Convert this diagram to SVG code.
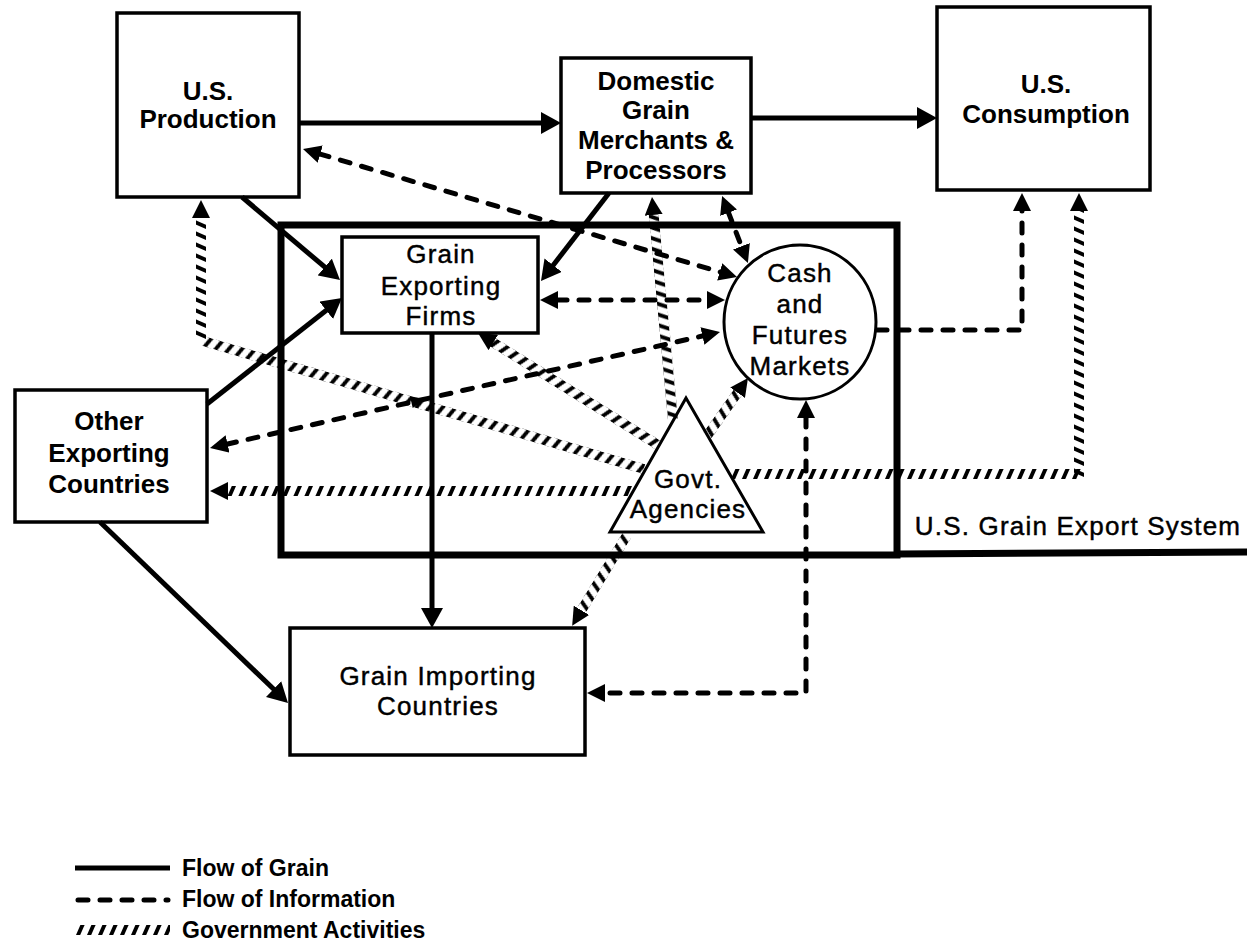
<svg xmlns="http://www.w3.org/2000/svg" width="1247" height="948" viewBox="0 0 1247 948">
<style>
.box{fill:#fff;stroke:#000;stroke-width:3.5}
.tb{font-family:"Liberation Sans",Arial,sans-serif;font-size:26px;font-weight:bold;text-anchor:middle;fill:#000}
.tr{font-family:"Liberation Sans",Arial,sans-serif;font-size:26px;letter-spacing:1.2px;text-anchor:middle;fill:#000;stroke:#000;stroke-width:0.45}
.lg{font-family:"Liberation Sans",Arial,sans-serif;font-size:23px;font-weight:bold;fill:#000}
.grain{stroke:#000;stroke-width:5;fill:none}
.info{stroke:#000;stroke-width:5;fill:none;stroke-dasharray:10 12;stroke-linecap:round;stroke-linejoin:round}
.gov{stroke:url(#hatch);stroke-width:10;fill:none}
</style>
<defs>
<pattern id="hatch" patternUnits="userSpaceOnUse" x="0" y="-5" width="11" height="10">
<polygon points="1,10 5.2,10 9.6,0 5.4,0" fill="#000"/>
</pattern>
<marker id="ah" viewBox="0 0 20 22" refX="1" refY="11" markerWidth="20" markerHeight="22" markerUnits="userSpaceOnUse" orient="auto-start-reverse"><path d="M0,0 L20,11 L0,22 Z" fill="#000"/></marker>
<marker id="ahd" viewBox="0 0 18 18" refX="1" refY="9" markerWidth="18" markerHeight="18" markerUnits="userSpaceOnUse" orient="auto-start-reverse"><path d="M0,0 L18,9 L0,18 Z" fill="#000"/></marker>
</defs>
<rect width="1247" height="948" fill="#fff"/>

<g id="export-system">
<rect x="281" y="225" width="616" height="330" fill="none" stroke="#000" stroke-width="7"/>
<line x1="897" y1="554" x2="1247" y2="552" stroke="#000" stroke-width="7"/>
<text class="tr" x="1078" y="535">U.S. Grain Export System</text>
</g>

<g id="node-us-production">
<rect class="box" x="117" y="13" width="182" height="184"/>
<text class="tb" x="208" y="100">U.S.</text>
<text class="tb" x="208" y="128">Production</text>
</g>

<g id="node-domestic-merchants">
<rect class="box" x="561" y="58" width="190" height="135"/>
<text class="tb" x="656" y="90">Domestic</text>
<text class="tb" x="656" y="119">Grain</text>
<text class="tb" x="656" y="149">Merchants &amp;</text>
<text class="tb" x="656" y="179">Processors</text>
</g>

<g id="node-us-consumption">
<rect class="box" x="937" y="7" width="213" height="183"/>
<text class="tb" x="1046" y="93">U.S.</text>
<text class="tb" x="1046" y="123">Consumption</text>
</g>

<g id="node-grain-exporting-firms">
<rect class="box" x="342" y="237" width="196" height="96" stroke-width="3"/>
<text class="tr" x="441" y="263">Grain</text>
<text class="tr" x="441" y="295">Exporting</text>
<text class="tr" x="441" y="325">Firms</text>
</g>

<g id="node-cash-futures">
<ellipse cx="800" cy="322" rx="76" ry="77" fill="#fff" stroke="#000" stroke-width="3"/>
<text class="tr" x="800" y="282">Cash</text>
<text class="tr" x="800" y="313">and</text>
<text class="tr" x="800" y="344">Futures</text>
<text class="tr" x="800" y="375">Markets</text>
</g>

<g id="node-govt-agencies">
<polygon points="686,398 610,532 763,532" fill="#fff" stroke="#000" stroke-width="3"/>
<text class="tr" x="688" y="488">Govt.</text>
<text class="tr" x="688" y="518">Agencies</text>
</g>

<g id="node-other-exporting">
<rect class="box" x="15" y="390" width="192" height="132"/>
<text class="tb" x="109" y="430">Other</text>
<text class="tb" x="109" y="462">Exporting</text>
<text class="tb" x="109" y="493">Countries</text>
</g>

<g id="node-grain-importing">
<rect class="box" x="290" y="628" width="295" height="127"/>
<text class="tr" x="438" y="685">Grain Importing</text>
<text class="tr" x="438" y="715">Countries</text>
</g>

<g id="connectors">
<!-- grain flows -->
<path class="grain" d="M299,123 H542" marker-end="url(#ah)"/>
<path class="grain" d="M751,118 H918" marker-end="url(#ah)"/>
<path class="grain" d="M242,197 L325.5,267.7" marker-end="url(#ah)"/>
<path class="grain" d="M609,193 L552.6,266" marker-end="url(#ah)"/>
<path class="grain" d="M207,404 L327,309.7" marker-end="url(#ah)"/>
<path class="grain" d="M100,522 L274.3,689.8" marker-end="url(#ah)"/>
<path class="grain" d="M432,333 V609" stroke-width="4" marker-end="url(#ah)"/>
<!-- information flows -->
<path class="info" d="M319.3,153.8 L720.7,272.2" marker-start="url(#ahd)" marker-end="url(#ahd)"/>
<path class="info" d="M728.2,211.8 L741.8,247.2" marker-start="url(#ahd)" marker-end="url(#ahd)"/>
<path class="info" d="M557,300 H708" marker-start="url(#ahd)" marker-end="url(#ahd)"/>
<path class="info" d="M226.6,444.2 L703.4,335.8" marker-start="url(#ahd)" marker-end="url(#ahd)"/>
<polygon points="425,399 412.7,408 410,396.3" fill="#000"/>
<path class="info" d="M877,330 H1022 V210" marker-end="url(#ahd)"/>
<path class="info" d="M806,417 V693 H604" marker-start="url(#ahd)" marker-end="url(#ahd)"/>
<!-- government activities -->
<line class="gov" x1="0" y1="0" x2="123" y2="0" transform="translate(201,340) rotate(-90)" marker-end="url(#ahd)"/>
<line class="gov" x1="0" y1="0" x2="459" y2="0" transform="translate(203,341) rotate(16.19)"/>
<line class="gov" x1="0" y1="0" x2="195" y2="0" transform="translate(658,445) rotate(211.89)" marker-end="url(#ahd)"/>
<line class="gov" x1="0" y1="0" x2="406" y2="0" transform="translate(633,491) rotate(180)" marker-end="url(#ahd)"/>
<line class="gov" x1="0" y1="0" x2="353" y2="0" transform="translate(730,474)"/>
<line class="gov" x1="0" y1="0" x2="268" y2="0" transform="translate(1079,478) rotate(-90)" marker-end="url(#ahd)"/>
<line class="gov" x1="0" y1="0" x2="54" y2="0" transform="translate(707,436) rotate(-54.74)" marker-end="url(#ahd)"/>
<line class="gov" x1="0" y1="0" x2="207" y2="0" transform="translate(673,420) rotate(-95.38)" marker-end="url(#ahd)"/>
<line class="gov" x1="0" y1="0" x2="89" y2="0" transform="translate(627,535) rotate(121.15)" marker-end="url(#ahd)"/>
</g>

<g id="legend">
<line class="grain" x1="75" y1="868" x2="170" y2="868"/>
<text class="lg" x="182" y="876">Flow of Grain</text>
<line class="info" x1="78" y1="900" x2="168" y2="900"/>
<text class="lg" x="182" y="907">Flow of Information</text>
<line class="gov" x1="0" y1="0" x2="95" y2="0" transform="translate(75,930)"/>
<text class="lg" x="182" y="938">Government Activities</text>
</g>
</svg>
